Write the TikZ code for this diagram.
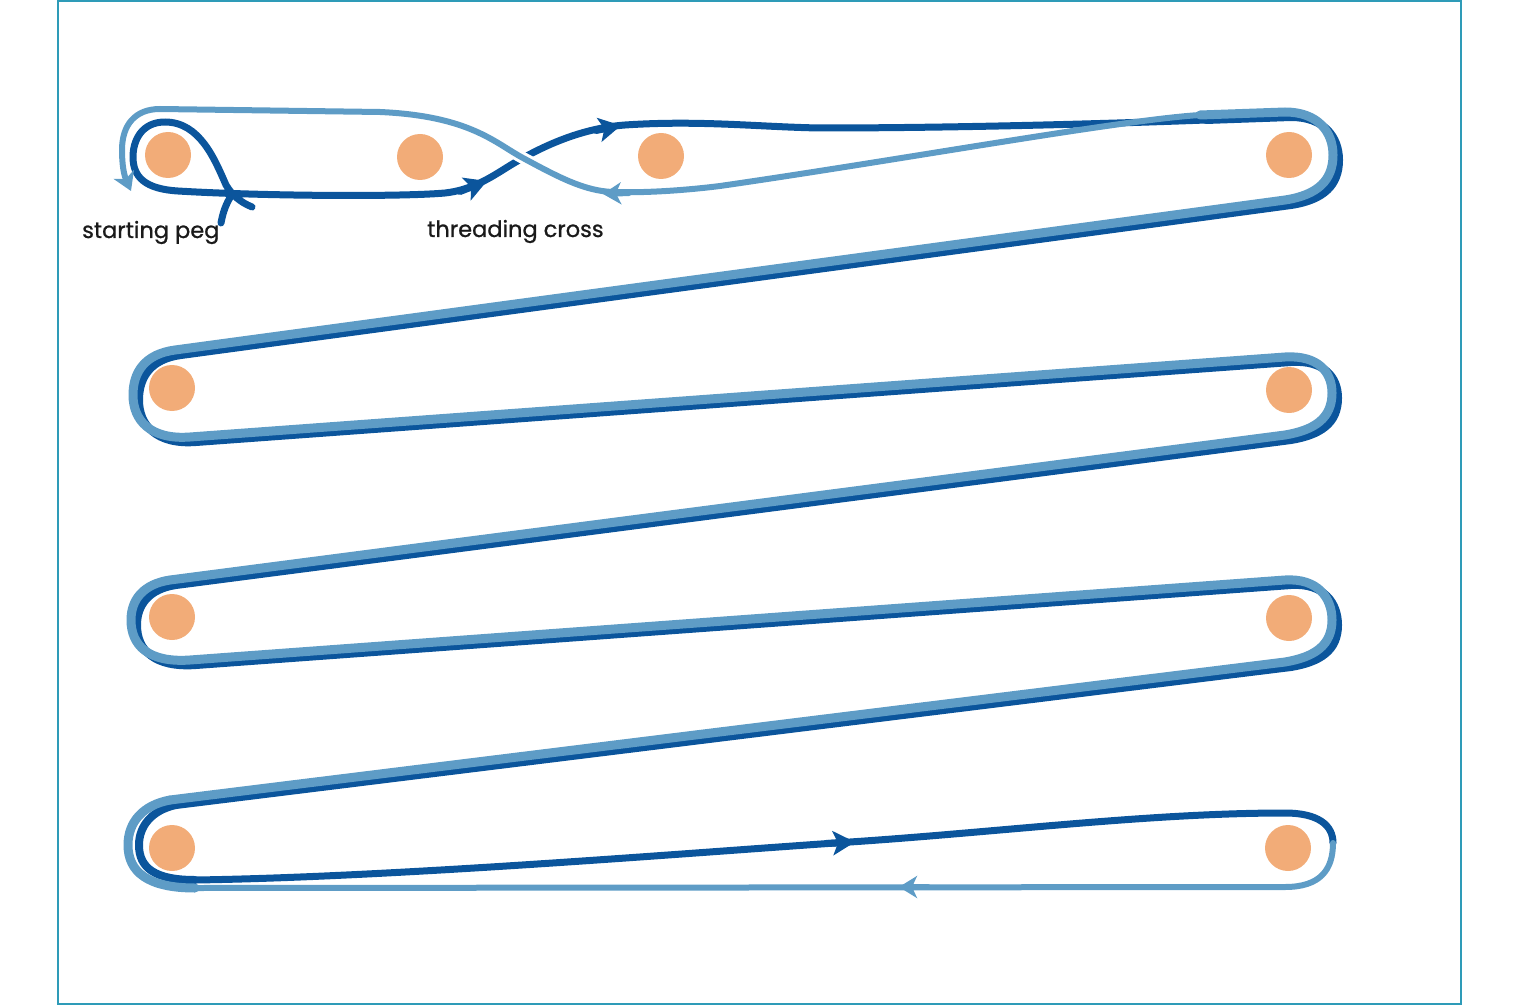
\documentclass[tikz,border=0pt]{standalone}
\usepackage{fontspec}
\setmainfont{Poppins}
\newfontfamily\lblfont[FakeBold=0.9]{Poppins}
\usetikzlibrary{arrows.meta}
\definecolor{darkyarn}{HTML}{0B559C}
\definecolor{lightyarn}{HTML}{5E9CC6}
\definecolor{pegcol}{HTML}{F2AC78}
\definecolor{framecol}{HTML}{2E9BB8}
\definecolor{txt}{HTML}{1A1A1A}
\def\zigroute{(1200,115) -- (1285,112) .. controls (1318,112) and (1333,132) .. (1333,155)
 .. controls (1333,180) and (1318,195) .. (1285,200) -- (175,350)
 .. controls (145,354) and (133,372) .. (133,395) .. controls (133,420) and (150,440) .. (190,437)
 -- (1285,357) .. controls (1318,355) and (1332,372) .. (1332,393)
 .. controls (1332,418) and (1315,430) .. (1285,435) -- (170,580)
 .. controls (143,584) and (131,600) .. (131,620) .. controls (131,645) and (148,663) .. (190,660)
 -- (1285,580) .. controls (1318,578) and (1332,598) .. (1332,620)
 .. controls (1332,645) and (1315,657) .. (1285,662) -- (170,800)}
\begin{document}
\begin{tikzpicture}[x=1pt,y=-1pt,
 peg/.style={circle, fill=pegcol, minimum size=46pt, inner sep=0pt},
 darkline/.style={draw=darkyarn, line width=7pt, line cap=round, line join=round},
 darkband/.style={draw=darkyarn, line width=8pt, line cap=round, line join=round},
 lightline/.style={draw=lightyarn, line width=6pt, line cap=round, line join=round},
 lightband/.style={draw=lightyarn, line width=9pt, line cap=round, line join=round},
 darktip/.style={-{Stealth[length=22pt,width=24pt,inset=5pt]}},
 lighttip/.style={-{Stealth[length=18pt,width=22pt,inset=5pt]}},
 lbl/.style={font=\lblfont\fontsize{22.5}{26}\selectfont, text=txt, anchor=base west, inner sep=0pt},
 frame/.style={draw=framecol, line width=2pt},
]
\path[use as bounding box] (0,0) rectangle (1520,1008);
\draw[frame] (58,1) rectangle (1461,1004);

% pegs
\node[peg] (p1a) at (168,155) {};
\node[peg] (p1b) at (420,157) {};
\node[peg] (p1c) at (661,156) {};
\node[peg] (p1d) at (1289,155) {};
\node[peg] (p2a) at (172,388) {};
\node[peg] (p2b) at (1289,390) {};
\node[peg] (p3a) at (172,617) {};
\node[peg] (p3b) at (1289,618) {};
\node[peg] (p4a) at (172,848) {};
\node[peg] (p4b) at (1288,848) {};

% dark yarn
\draw[darkline] (221,223) .. controls (223,212) and (226,204) .. (231,196);
\draw[darkline] (252,207) .. controls (240,202) and (232,195) .. (226,185)
 .. controls (215,160) and (200,122) .. (165,122) .. controls (142,122) and (133,140) .. (133,157)
 .. controls (133,177) and (145,189) .. (178,191) .. controls (260,196) and (400,197) .. (445,193)
 .. controls (480,189) and (500,170) .. (523,158) .. controls (550,143) and (585,128) .. (625,125)
 .. controls (700,120) and (760,127) .. (820,128) .. controls (950,128) and (1100,124) .. (1206,120);
\draw[darkband, shift={(6,5)}] \zigroute;
\draw[darkband] (176,805) .. controls (152,810) and (139,826) .. (139,845)
 .. controls (139,868) and (155,880) .. (195,880);
\draw[darkline] (195,880) .. controls (400,877) and (700,852) .. (850,842)
 .. controls (1000,832) and (1150,813) .. (1285,813) .. controls (1318,813) and (1333,825) .. (1333,843);
\draw[darkline, darktip] (460,191.5) -- (487,181);
\draw[darkline, darktip] (596,130.5) -- (621,125.5);
\draw[darkline, darktip] (826,843.5) -- (855,842);

% light yarn
\draw[lightband] \zigroute;
\draw[lightband] (170,800) .. controls (143,805) and (128,822) .. (128,845)
 .. controls (128,872) and (148,888) .. (195,888);
\draw[lightline] (195,888) -- (1285,887) .. controls (1320,887) and (1333,870) .. (1333,843);
\draw[lightline] (1200,115) .. controls (1120,120) and (900,160) .. (720,186)
 .. controls (680,191) and (640,193) .. (613,192);
\draw[lightline, preaction={draw=white, line width=12pt, line cap=butt}] (613,192)
 .. controls (585,191) and (560,178) .. (523,158) .. controls (495,143) and (470,116) .. (380,112);
\draw[lightline, lighttip] (380,112) -- (160,109) .. controls (135,109) and (122,125) .. (122,150)
 .. controls (122,165) and (124,175) .. (131,191);
\draw[lightline, lighttip] (629,193) -- (603,194);
\draw[lightline, lighttip] (928,887) -- (899,887);

% labels
\node[lbl] (lstart) at (82,238) {starting peg};
\node[lbl] (lcross) at (427,237) {threading cross};
\end{tikzpicture}
\end{document}
